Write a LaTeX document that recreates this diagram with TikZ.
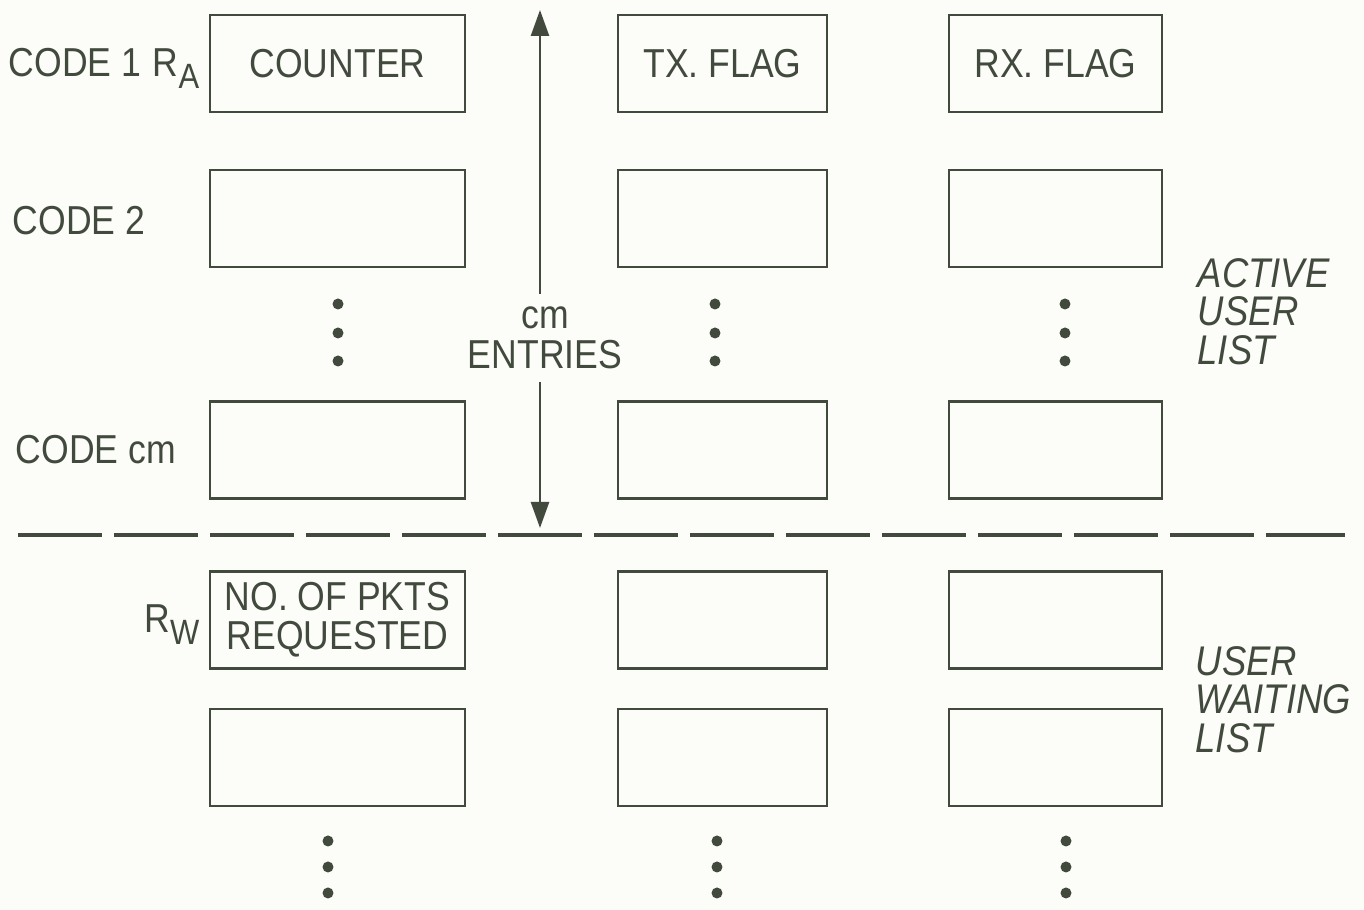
\documentclass[tikz,border=0pt]{standalone}
\usepackage{fontspec}
\setmainfont{Liberation Sans}[FakeStretch=0.88]
\usepackage{xcolor}
\usetikzlibrary{arrows.meta, positioning}
\definecolor{ink}{RGB}{66,74,62}
\definecolor{paper}{RGB}{252,252,249}
\newcommand{\lsub}[1]{\raisebox{-0.55ex}{\fontsize{10}{10}\selectfont #1}}

\begin{document}
\begin{tikzpicture}[
  cell/.style={draw=ink, line width=0.75pt, minimum height=0.97cm, inner sep=0pt},
  lbl/.style={text=ink, font=\fontsize{11.5}{10.8}\selectfont, inner sep=0pt, align=center},
  side/.style={text=ink, font=\fontsize{11.8}{10.9}\selectfont\itshape, inner sep=0pt,
               align=left, anchor=north west},
  arr/.style={draw=ink, line width=0.7pt, -{Triangle[length=2.6mm, width=1.8mm]}},
  sep/.style={draw=ink, line width=1.2pt, dash pattern=on 0.84cm off 0.12cm}
]
\useasboundingbox[fill=paper] (0,0) rectangle (13.64,-9.10);

% table cells: column / centre / width, then rows
\foreach \c/\x/\w in {a/3.375/2.55, b/7.225/2.09, c/10.555/2.13}{
  \foreach \r/\y in {1/-0.635, 2/-2.185, m/-4.50, w1/-6.20, w2/-7.575}{
    \node[cell, minimum width=\w cm] (\c\r) at (\x,\y) {};
  }
}
\node[lbl] (counter) at (a1) {COUNTER};
\node[lbl] (txflag) at (b1) {TX. FLAG};
\node[lbl] (rxflag) at (c1) {RX. FLAG};
\node[lbl, font=\fontsize{11.5}{11.2}\selectfont] (pkts) at (aw1) {NO. OF PKTS\\REQUESTED};

% row labels
\node[lbl, anchor=base west] (code1) at (0.08,-0.77) {CODE 1};
\node[lbl, anchor=base east] (ra) at (2.00,-0.77) {R\lsub{A}};
\node[lbl, anchor=base west] (code2) at (0.12,-2.35) {CODE 2};
\node[lbl, anchor=base west] (codem) at (0.15,-4.64) {CODE cm};
\node[lbl, anchor=base east] (rw) at (2.00,-6.33) {R\lsub{W}};

% cm entries arrow
\coordinate (top) at (5.40,-0.10);
\coordinate (bot) at (5.40,-5.28);
\node[lbl, font=\fontsize{11.5}{11.5}\selectfont, inner ysep=0.12cm] (ent) at (5.45,-3.38) {cm\\ENTRIES};
\draw[arr] (ent.north -| top) -- (top);
\draw[arr] (ent.south -| bot) -- (bot);

% dots
\foreach \x in {3.38, 7.15, 10.65}{
  \foreach \y in {-3.04, -3.33, -3.61}{
    \fill[ink] (\x,\y) circle (0.055);
  }
}
\foreach \x in {3.28, 7.17, 10.66}{
  \foreach \y in {-8.41, -8.67, -8.93}{
    \fill[ink] (\x,\y) circle (0.055);
  }
}

% split between the two lists
\coordinate (sepL) at (0.18,-5.35);
\coordinate (sepR) at (13.45,-5.35);
\draw[sep] (sepL) -- (sepR);

\node[side] (active) at (11.97,-2.58) {ACTIVE\\USER\\LIST};
\node[side] (waiting) at (11.95,-6.46) {USER\\WAITING\\LIST};
\end{tikzpicture}
\end{document}
